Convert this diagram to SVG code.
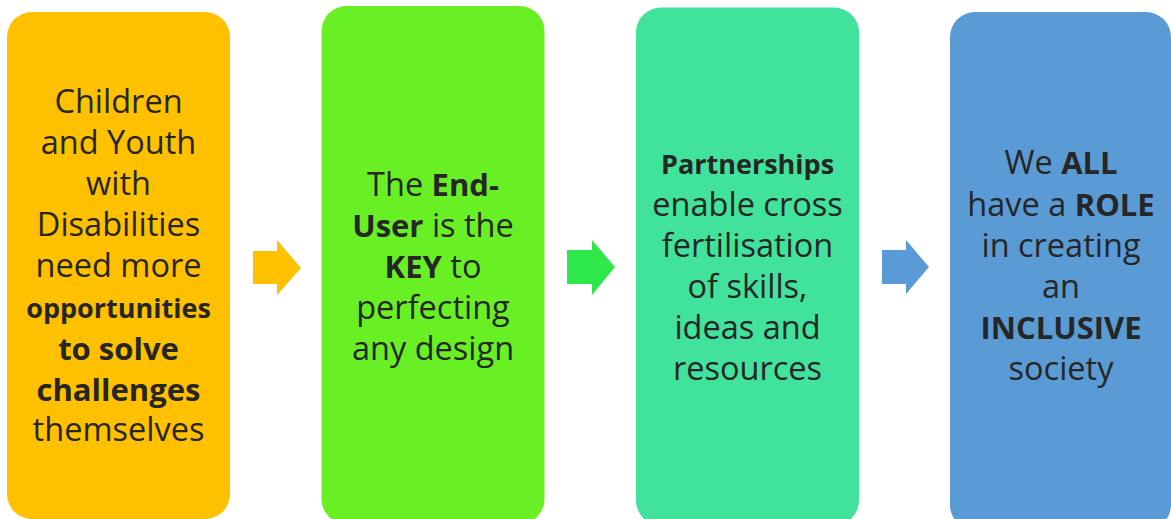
<svg xmlns="http://www.w3.org/2000/svg" width="1171" height="519" viewBox="0 0 1171 519">
  <style>
    text { font-family: "Open Sans", "Liberation Sans", sans-serif; font-size: 32.5px; fill: #262626; text-anchor: middle; }
    .b { font-weight: bold; font-size: 31px; }
    .s { font-size: 27px; font-weight: bold; }
  </style>
  <rect width="1171" height="519" fill="#FFFFFF"/>
  <g id="node1">
    <rect x="7" y="12" width="223" height="507" rx="25" fill="#FFC000"/>
    <text x="118.5" y="113">Children</text>
    <text x="118.5" y="154">and Youth</text>
    <text x="118.5" y="195">with</text>
    <text x="118.5" y="236">Disabilities</text>
    <text x="118.5" y="277">need more</text>
    <text x="118.5" y="318" class="s">opportunities</text>
    <text x="118.5" y="360" class="b">to solve</text>
    <text x="118.5" y="401" class="b">challenges</text>
    <text x="118.5" y="441">themselves</text>
  </g>
  <g id="node2">
    <rect x="321.5" y="6" width="223" height="518" rx="25" fill="#68F024"/>
    <text x="433" y="196">The <tspan class="b">End-</tspan></text>
    <text x="433" y="237"><tspan class="b">User</tspan> is the</text>
    <text x="433" y="278"><tspan class="b">KEY</tspan> to</text>
    <text x="433" y="319">perfecting</text>
    <text x="433" y="360">any design</text>
  </g>
  <g id="node3">
    <rect x="636" y="7.5" width="223" height="518" rx="25" fill="#41E29B"/>
    <text x="747.5" y="174" class="s">Partnerships</text>
    <text x="747.5" y="216">enable cross</text>
    <text x="747.5" y="257">fertilisation</text>
    <text x="747.5" y="298">of skills,</text>
    <text x="747.5" y="339">ideas and</text>
    <text x="747.5" y="380">resources</text>
  </g>
  <g id="node4">
    <rect x="950" y="12" width="221" height="518" rx="25" fill="#5B9BD5"/>
    <text x="1061" y="174">We <tspan class="b">ALL</tspan></text>
    <text x="1061" y="216">have a <tspan class="b">ROLE</tspan></text>
    <text x="1061" y="257">in creating</text>
    <text x="1061" y="298">an</text>
    <text x="1061" y="339" class="b">INCLUSIVE</text>
    <text x="1061" y="380">society</text>
  </g>
  <g id="connectors">
    <polygon points="253,251 277,251 277,240 301,268 277,295 277,284 253,284" fill="#FFC000"/>
    <polygon points="567,250 592,250 592,240 615,267 592,295 592,284 567,284" fill="#2EE84A"/>
    <polygon points="882,250 906,250 906,240 929,267 906,294 906,284 882,284" fill="#5B9BD5"/>
  </g>
</svg>
